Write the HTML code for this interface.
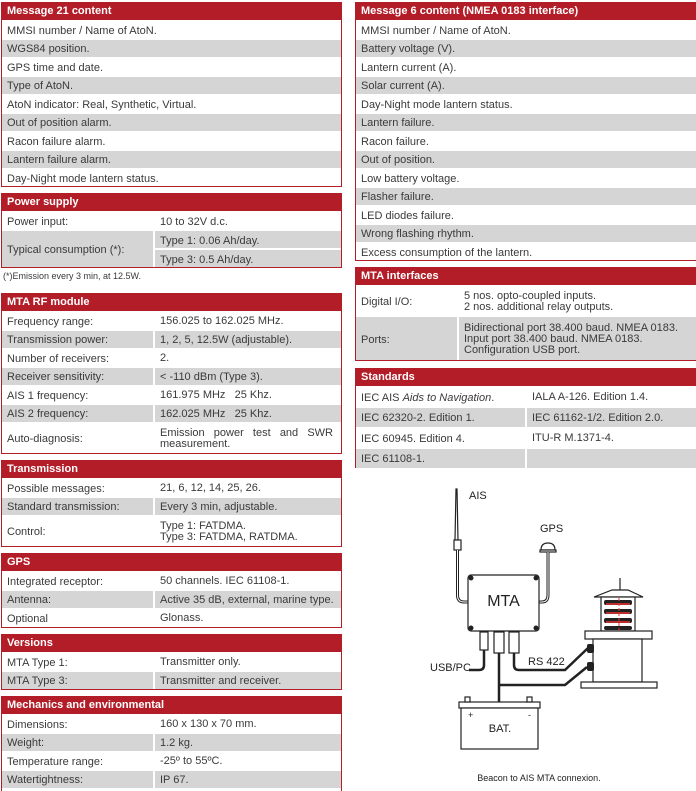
<!DOCTYPE html>
<html><head><meta charset="utf-8"><style>
body{margin:0;width:696px;height:787px;background:#fff;position:relative;overflow:hidden;font-family:"Liberation Sans",sans-serif;font-size:11px;color:#3a3a3a}
.s{position:absolute;border:1px solid #b31d28;border-top:none;box-sizing:border-box}
.h{height:18px;background:#b31d28;color:#fff;font-weight:bold;padding-left:6px;line-height:19px;margin:0 -1px}
.r{display:flex;align-items:center;padding-left:5px;padding-top:2px;box-sizing:border-box;border-top:1px solid #fff;line-height:12px}
.g{background:#d5d5d5}
.c1{flex:none;align-self:stretch;display:flex;align-items:center}
.c2{flex:1;border-left:2px solid #fff;padding-left:5px;align-self:stretch;display:flex;align-items:center;line-height:11px;margin-top:-2px;padding-top:2px}
.sub{flex:1;display:flex;flex-direction:column;align-self:stretch;border-left:2px solid #fff;margin-top:-2px}
.sub div{flex:1;display:flex;align-items:center;padding-left:5px;padding-top:2px}
</style></head><body>

<!-- LEFT -->
<div class="s" style="left:1px;top:2px;width:341px;height:185px">
<div class="h">Message 21 content</div>
<div class="r" style="height:18.5px">MMSI number / Name of AtoN.</div>
<div class="r g" style="height:18.5px">WGS84 position.</div>
<div class="r" style="height:18.5px">GPS time and date.</div>
<div class="r g" style="height:18.5px">Type of AtoN.</div>
<div class="r" style="height:18.5px">AtoN indicator: Real, Synthetic, Virtual.</div>
<div class="r g" style="height:18.5px">Out of position alarm.</div>
<div class="r" style="height:18.5px">Racon failure alarm.</div>
<div class="r g" style="height:18.5px">Lantern failure alarm.</div>
<div class="r" style="height:18.5px">Day-Night mode lantern status.</div>
</div>

<div class="s" style="left:1px;top:193px;width:341px;height:75px">
<div class="h">Power supply</div>
<div class="r" style="height:19px"><div class="c1" style="width:146px">Power input:</div><div class="c2">10 to 32V d.c.</div></div>
<div class="r g" style="height:37px"><div class="c1" style="width:146px">Typical consumption (*):</div><div class="sub"><div>Type 1: 0.06 Ah/day.</div><div style="background:#d5d5d5;border-top:2px solid #fff">Type 3: 0.5 Ah/day.</div></div></div>
</div>
<div style="position:absolute;left:3px;top:271px;font-size:9px">(*)Emission every 3 min, at 12.5W.</div>

<div class="s" style="left:1px;top:293px;width:341px;height:161px">
<div class="h">MTA RF module</div>
<div class="r" style="height:18.5px"><div class="c1" style="width:146px">Frequency range:</div><div class="c2">156.025 to 162.025 MHz.</div></div>
<div class="r g" style="height:18.5px"><div class="c1" style="width:146px">Transmission power:</div><div class="c2">1, 2, 5, 12.5W (adjustable).</div></div>
<div class="r" style="height:18.5px"><div class="c1" style="width:146px">Number of receivers:</div><div class="c2">2.</div></div>
<div class="r g" style="height:18.5px"><div class="c1" style="width:146px">Receiver sensitivity:</div><div class="c2">&lt; -110 dBm (Type 3).</div></div>
<div class="r" style="height:18.5px"><div class="c1" style="width:146px">AIS 1 frequency:</div><div class="c2">161.975 MHz&nbsp;&nbsp; 25 Khz.</div></div>
<div class="r g" style="height:18.5px"><div class="c1" style="width:146px">AIS 2 frequency:</div><div class="c2">162.025 MHz&nbsp;&nbsp; 25 Khz.</div></div>
<div class="r" style="height:31px"><div class="c1" style="width:146px">Auto-diagnosis:</div><div class="c2" style="padding-right:6px">Emission&nbsp;&nbsp;&nbsp;power&nbsp;&nbsp;&nbsp;test&nbsp;&nbsp;&nbsp;and&nbsp;&nbsp;&nbsp;SWR<br>measurement.</div></div>
</div>

<div class="s" style="left:1px;top:460px;width:341px;height:87px">
<div class="h">Transmission</div>
<div class="r" style="height:18.5px"><div class="c1" style="width:146px">Possible messages:</div><div class="c2">21, 6, 12, 14, 25, 26.</div></div>
<div class="r g" style="height:18.5px"><div class="c1" style="width:146px">Standard transmission:</div><div class="c2">Every 3 min, adjustable.</div></div>
<div class="r" style="height:31px"><div class="c1" style="width:146px">Control:</div><div class="c2">Type 1: FATDMA.<br>Type 3: FATDMA, RATDMA.</div></div>
</div>

<div class="s" style="left:1px;top:553px;width:341px;height:75px">
<div class="h">GPS</div>
<div class="r" style="height:18.5px"><div class="c1" style="width:146px">Integrated receptor:</div><div class="c2">50 channels. IEC 61108-1.</div></div>
<div class="r g" style="height:18.5px"><div class="c1" style="width:146px">Antenna:</div><div class="c2">Active 35 dB, external, marine type.</div></div>
<div class="r" style="height:18.5px"><div class="c1" style="width:146px">Optional</div><div class="c2">Glonass.</div></div>
</div>

<div class="s" style="left:1px;top:634px;width:341px;height:56px">
<div class="h">Versions</div>
<div class="r" style="height:18.5px"><div class="c1" style="width:146px">MTA Type 1:</div><div class="c2">Transmitter only.</div></div>
<div class="r g" style="height:18.5px"><div class="c1" style="width:146px">MTA Type 3:</div><div class="c2">Transmitter and receiver.</div></div>
</div>

<div class="s" style="left:1px;top:696px;width:341px;height:95px;border-bottom:none">
<div class="h">Mechanics and environmental</div>
<div class="r" style="height:18.5px"><div class="c1" style="width:146px">Dimensions:</div><div class="c2">160 x 130 x 70 mm.</div></div>
<div class="r g" style="height:18.5px"><div class="c1" style="width:146px">Weight:</div><div class="c2">1.2 kg.</div></div>
<div class="r" style="height:18.5px"><div class="c1" style="width:146px">Temperature range:</div><div class="c2">-25º to 55ºC.</div></div>
<div class="r g" style="height:18.5px"><div class="c1" style="width:146px">Watertightness:</div><div class="c2">IP 67.</div></div>
</div>

<!-- RIGHT -->
<div class="s" style="left:355px;top:2px;width:343px;height:259px">
<div class="h">Message 6 content (NMEA 0183 interface)</div>
<div class="r" style="height:18.5px">MMSI number / Name of AtoN.</div>
<div class="r g" style="height:18.5px">Battery voltage (V).</div>
<div class="r" style="height:18.5px">Lantern current (A).</div>
<div class="r g" style="height:18.5px">Solar current (A).</div>
<div class="r" style="height:18.5px">Day-Night mode lantern status.</div>
<div class="r g" style="height:18.5px">Lantern failure.</div>
<div class="r" style="height:18.5px">Racon failure.</div>
<div class="r g" style="height:18.5px">Out of position.</div>
<div class="r" style="height:18.5px">Low battery voltage.</div>
<div class="r g" style="height:18.5px">Flasher failure.</div>
<div class="r" style="height:18.5px">LED diodes failure.</div>
<div class="r g" style="height:18.5px">Wrong flashing rhythm.</div>
<div class="r" style="height:18.5px">Excess consumption of the lantern.</div>
</div>

<div class="s" style="left:355px;top:267px;width:343px;height:94px">
<div class="h">MTA interfaces</div>
<div class="r" style="height:31px"><div class="c1" style="width:96px">Digital I/O:</div><div class="c2">5 nos. opto-coupled inputs.<br>2 nos. additional relay outputs.</div></div>
<div class="r g" style="height:44px"><div class="c1" style="width:96px">Ports:</div><div class="c2">Bidirectional port 38.400 baud. NMEA 0183.<br>Input port 38.400 baud. NMEA 0183.<br>Configuration USB port.</div></div>
</div>

<div class="s" style="left:355px;top:368px;width:343px;height:100px">
<div class="h">Standards</div>
<div class="r" style="height:20.5px"><div class="c1" style="width:164px">IEC AIS&nbsp;<i>Aids to Navigation</i>.</div><div class="c2">IALA A-126. Edition 1.4.</div></div>
<div class="r g" style="height:20.5px"><div class="c1" style="width:164px">IEC 62320-2. Edition 1.</div><div class="c2">IEC 61162-1/2. Edition 2.0.</div></div>
<div class="r" style="height:20.5px"><div class="c1" style="width:164px">IEC 60945. Edition 4.</div><div class="c2">ITU-R M.1371-4.</div></div>
<div class="r g" style="height:20.5px"><div class="c1" style="width:164px">IEC 61108-1.</div><div class="c2"></div></div>
</div>

<!-- DIAGRAM -->
<svg style="position:absolute;left:0;top:0" width="696" height="787" viewBox="0 0 696 787">
<g fill="none" stroke="#222" stroke-width="1.2">
<path d="M456,489 L455,540 L458,540 L457,489 Z" fill="#fff"/>
<rect x="454" y="540" width="7" height="10" fill="#fff"/>
<path d="M457.5,550 V595 Q457.5,602 464,602 H468" stroke-width="3"/>
<path d="M457.5,550 V595 Q457.5,602 464,602 H468" stroke="#fff" stroke-width="1"/>
<path d="M541,550 Q541,543 548,543 Q555,543 555,550 Z" fill="#fff"/>
<rect x="540" y="550" width="16" height="2" fill="#fff"/>
<path d="M548,552 V595 Q548,602 542,602 H539" stroke-width="3"/>
<path d="M548,552 V595 Q548,602 542,602 H539" stroke="#fff" stroke-width="1"/>
<rect x="468" y="575" width="71" height="56" rx="3" fill="#fff"/>
<rect x="480" y="632" width="8" height="18" fill="#fff"/>
<rect x="494" y="632" width="10" height="21" fill="#fff"/>
<rect x="509" y="632" width="10" height="21" fill="#fff"/>
<path d="M484,650 V665 Q484,670 479,670 H469" stroke-width="2.5"/>
<path d="M499,653 V703" stroke-width="2.5"/>
<path d="M499,685 H565 L587,667" stroke-width="2.5"/>
<path d="M514,653 V665 Q514,670 519,670 H565 L588,648" stroke-width="2.5"/>
<rect x="459" y="702" width="81" height="6" fill="#fff"/>
<rect x="461" y="708" width="77" height="41" fill="#fff"/>
<rect x="465" y="697" width="5" height="5" fill="#fff"/>
<rect x="527" y="697" width="5" height="5" fill="#fff"/>
<line x1="620" y1="578" x2="620" y2="590"/>
<path d="M594,597 L612,590 H628 L643,597 Z" fill="#fff"/>
<rect x="601" y="597" width="34" height="34" fill="#fff"/>
<rect x="585" y="631" width="67" height="8" fill="#fff"/>
<rect x="593" y="639" width="49" height="43" fill="#fff"/>
<rect x="581" y="682" width="76" height="6" fill="#fff"/>
</g>
<g fill="#222">
<circle cx="471" cy="578" r="2.5"/><circle cx="536" cy="578" r="2.5"/>
<circle cx="471" cy="628" r="2.5"/><circle cx="536" cy="628" r="2.5"/>
<rect x="587" y="644" width="7" height="9" rx="2"/>
<rect x="587" y="662" width="7" height="9" rx="2"/>
<rect x="604" y="600" width="28" height="5" rx="2"/>
<rect x="604" y="609" width="28" height="5" rx="2"/>
<rect x="604" y="618" width="28" height="5" rx="2"/>
<rect x="604" y="626" width="28" height="4" rx="2"/>
</g>
<g stroke="#e33" stroke-width="1.5">
<line x1="606" y1="604" x2="630" y2="604"/><line x1="606" y1="613" x2="630" y2="613"/><line x1="606" y1="622" x2="630" y2="622"/>
<line x1="619" y1="598" x2="619" y2="630" stroke-dasharray="3,2" stroke-width="1"/>
</g>
<g font-family="Liberation Sans, sans-serif" fill="#222">
<text x="469" y="499" font-size="11">AIS</text>
<text x="540" y="532" font-size="11">GPS</text>
<text x="503.5" y="606" font-size="16" text-anchor="middle">MTA</text>
<text x="430" y="671" font-size="11">USB/PC</text>
<text x="528" y="665" font-size="11">RS 422</text>
<text x="468" y="718" font-size="9">+</text>
<text x="528" y="718" font-size="9">-</text>
<text x="500" y="732" font-size="11" text-anchor="middle">BAT.</text>
<text x="539" y="781" font-size="9" text-anchor="middle">Beacon to AIS MTA connexion.</text>
</g>
</svg>
</body></html>
